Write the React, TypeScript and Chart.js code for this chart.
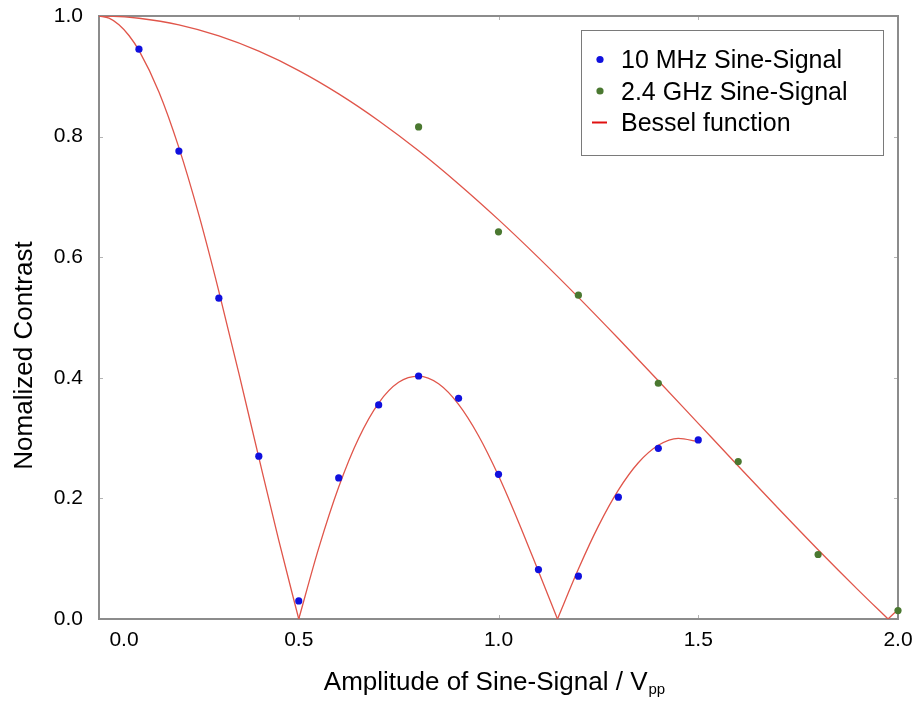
import React, { useEffect, useRef } from "react";
import { Chart, registerables } from "chart.js";

Chart.register(...registerables);

// Bessel fit (|J0|) for the 10 MHz series, one array pair per lobe
const fitMhzLobe1X = [0, 0.025, 0.05, 0.075, 0.1, 0.15, 0.2, 0.25, 0.3, 0.35, 0.4, 0.45, 0.5];
const fitMhzLobe1Y = [1.0, 0.9964, 0.9856, 0.9677, 0.943, 0.8741, 0.7817, 0.6701, 0.5434, 0.4076, 0.2679, 0.1303, 0.0];
const fitMhzLobe2X = [0.5, 0.55, 0.6, 0.65, 0.7, 0.75, 0.8, 0.85, 0.9, 0.95, 1.0, 1.05, 1.1, 1.1476];
const fitMhzLobe2Y = [0.0, 0.1176, 0.219, 0.2999, 0.3582, 0.3925, 0.4027, 0.39, 0.3559, 0.3039, 0.2375, 0.161, 0.079, 0.0];
const fitMhzLobe3X = [1.1476, 1.2, 1.25, 1.3, 1.35, 1.4, 1.45, 1.5];
const fitMhzLobe3Y = [0.0, 0.0829, 0.154, 0.2137, 0.2591, 0.2881, 0.2997, 0.2941];

// Bessel fit for the 2.4 GHz series
const fitGhzX = [0, 0.05, 0.1, 0.2, 0.3, 0.4, 0.5, 0.6, 0.7, 0.8, 0.9, 1.0, 1.1, 1.2, 1.3, 1.4, 1.5, 1.6, 1.7, 1.8, 1.9, 1.975];
const fitGhzY = [1.0, 0.9991, 0.9963, 0.9852, 0.9669, 0.9416, 0.9095, 0.8709, 0.8264, 0.7765, 0.7215, 0.6623, 0.5993, 0.5334, 0.4651, 0.3952, 0.3245, 0.2538, 0.1837, 0.1149, 0.0483, 0.0];
const fitGhzTailX = [1.975, 2.0];
const fitGhzTailY = [0.0, 0.0155];

// measured points
const mhzX = [0.1, 0.2, 0.3, 0.4, 0.5, 0.6, 0.7, 0.8, 0.9, 1.0, 1.1, 1.2, 1.3, 1.4, 1.5];
const mhzY = [0.945, 0.776, 0.532, 0.27, 0.03, 0.234, 0.355, 0.403, 0.366, 0.24, 0.082, 0.071, 0.202, 0.283, 0.297];
const ghzX = [0.8, 1.0, 1.2, 1.4, 1.6, 1.8, 2.0];
const ghzY = [0.816, 0.642, 0.537, 0.391, 0.261, 0.107, 0.014];

const xTicks = [0, 0.5, 1.0, 1.5, 2.0];
const yTicks = [0, 0.2, 0.4, 0.6, 0.8, 1.0];
const legendLabels = ["10 MHz Sine-Signal", "2.4 GHz Sine-Signal", "Bessel function"];
const xTitle = "Amplitude of Sine-Signal / V";
const xTitleSub = "pp";
const yTitle = "Nomalized Contrast";

const FONT = '"Liberation Sans", Arial, Helvetica, sans-serif';
const BLUE = "#1010de";
const GREEN = "#4a7830";
const RED = "#e0554a";

const zip = (xs: number[], ys: number[]) => xs.map((x, i) => ({ x, y: ys[i] }));

const curve = (label: string, xs: number[], ys: number[]) => ({
  label,
  data: zip(xs, ys),
  borderColor: RED,
  borderWidth: 1.3,
  pointRadius: 0,
  showLine: true,
  cubicInterpolationMode: "monotone",
  order: 1,
});

const decor = {
  id: "decor",
  beforeDatasetsDraw(chart: any) {
    const { ctx, chartArea: a, scales } = chart;
    const x = scales.x;
    const y = scales.y;
    ctx.save();
    ctx.strokeStyle = "#b4b4b4";
    ctx.lineWidth = 1;
    ctx.beginPath();
    xTicks.forEach((v) => {
      const px = Math.round(x.getPixelForValue(v)) + 0.5;
      ctx.moveTo(px, a.bottom);
      ctx.lineTo(px, a.bottom - 4);
      ctx.moveTo(px, a.top);
      ctx.lineTo(px, a.top + 4);
    });
    yTicks.forEach((v) => {
      const py = Math.round(y.getPixelForValue(v)) + 0.5;
      ctx.moveTo(a.left, py);
      ctx.lineTo(a.left + 4, py);
      ctx.moveTo(a.right, py);
      ctx.lineTo(a.right - 4, py);
    });
    ctx.stroke();
    ctx.strokeStyle = "#8c8c8c";
    ctx.lineWidth = 2;
    ctx.strokeRect(a.left, a.top, a.right - a.left, a.bottom - a.top);
    ctx.restore();
  },
  afterDraw(chart: any) {
    const { ctx, chartArea: a, scales } = chart;
    const x = scales.x;
    ctx.save();
    // x tick labels
    ctx.fillStyle = "#000";
    ctx.font = `21px ${FONT}`;
    ctx.textAlign = "center";
    ctx.textBaseline = "middle";
    xTicks.forEach((v, i) => {
      let px = x.getPixelForValue(v);
      if (i === 0) px += 25;
      ctx.fillText(v.toFixed(1), px, a.bottom + 21);
    });
    // x title with subscript
    ctx.textAlign = "left";
    ctx.textBaseline = "alphabetic";
    ctx.font = `26px ${FONT}`;
    const w1 = ctx.measureText(xTitle).width;
    ctx.font = `15px ${FONT}`;
    const w2 = ctx.measureText(xTitleSub).width;
    const cx = (a.left + a.right) / 2 - 4;
    const sx = cx - (w1 + w2 + 1) / 2;
    ctx.font = `26px ${FONT}`;
    ctx.fillText(xTitle, sx, a.bottom + 71);
    ctx.font = `15px ${FONT}`;
    ctx.fillText(xTitleSub, sx + w1 + 1, a.bottom + 75);
    // y title
    ctx.save();
    ctx.translate(a.left - 67, (a.top + a.bottom) / 2 + 38);
    ctx.rotate(-Math.PI / 2);
    ctx.font = `26px ${FONT}`;
    ctx.textAlign = "center";
    ctx.fillText(yTitle, 0, 0);
    ctx.restore();
    // legend
    const bx = a.right - 317;
    const by = a.top + 14;
    const bw = 302;
    const bh = 125;
    ctx.fillStyle = "#fff";
    ctx.fillRect(bx, by, bw, bh);
    ctx.strokeStyle = "#7a7a7a";
    ctx.lineWidth = 1;
    ctx.strokeRect(bx + 0.5, by + 0.5, bw, bh);
    const baselines = [by + 38, by + 69.5, by + 101];
    const marks = [BLUE, GREEN];
    ctx.font = `25px ${FONT}`;
    ctx.textAlign = "left";
    ctx.textBaseline = "alphabetic";
    legendLabels.forEach((lab, i) => {
      const cy = baselines[i] - 8.5;
      if (i < 2) {
        ctx.fillStyle = marks[i];
        ctx.beginPath();
        ctx.arc(bx + 19, cy, 3.6, 0, Math.PI * 2);
        ctx.fill();
      } else {
        ctx.strokeStyle = "#e01010";
        ctx.lineWidth = 2;
        ctx.beginPath();
        ctx.moveTo(bx + 11, cy);
        ctx.lineTo(bx + 26, cy);
        ctx.stroke();
      }
      ctx.fillStyle = "#000";
      ctx.fillText(lab, bx + 40, baselines[i]);
    });
    ctx.restore();
  },
};

export default function App() {
  const ref = useRef<HTMLCanvasElement | null>(null);
  useEffect(() => {
    if (!ref.current) return;
    Chart.defaults.font.family = FONT;
    const chart = new Chart(ref.current, {
      type: "scatter",
      data: {
        datasets: [
          {
            label: legendLabels[0],
            data: zip(mhzX, mhzY),
            backgroundColor: BLUE,
            borderColor: BLUE,
            pointRadius: 3.6,
            pointBorderWidth: 0,
            showLine: false,
            clip: false,
            order: 0,
          } as any,
          {
            label: legendLabels[1],
            data: zip(ghzX, ghzY),
            backgroundColor: GREEN,
            borderColor: GREEN,
            pointRadius: 3.6,
            pointBorderWidth: 0,
            showLine: false,
            clip: false,
            order: 0,
          },
          curve(legendLabels[2], fitMhzLobe1X, fitMhzLobe1Y),
          curve(legendLabels[2], fitMhzLobe2X, fitMhzLobe2Y),
          curve(legendLabels[2], fitMhzLobe3X, fitMhzLobe3Y),
          curve(legendLabels[2], fitGhzX, fitGhzY),
          curve(legendLabels[2], fitGhzTailX, fitGhzTailY),
        ],
      },
      options: {
        responsive: false,
        animation: false,
        events: [],
        layout: { padding: { top: 16, right: 17, left: 0, bottom: 0 } },
        plugins: { legend: { display: false }, tooltip: { enabled: false }, title: { display: false } },
        scales: {
          x: {
            type: "linear",
            min: 0,
            max: 2.0,
            grid: { display: false, drawTicks: false },
            border: { display: false },
            ticks: { display: false },
            afterFit: (s: any) => {
              s.height = 85;
              s.paddingLeft = 0;
              s.paddingRight = 0;
            },
          },
          y: {
            type: "linear",
            min: 0,
            max: 1.0,
            grid: { display: false, drawTicks: false },
            border: { display: false },
            ticks: {
              stepSize: 0.2,
              padding: 16,
              color: "#000",
              font: { size: 21, family: FONT },
              callback: (v: any) => Number(v).toFixed(1),
            },
            afterFit: (s: any) => {
              s.width = 99;
              s.paddingTop = 0;
              s.paddingBottom = 0;
            },
          },
        },
      } as any,
      plugins: [decor],
    });
    return () => chart.destroy();
  }, []);
  return (
    <div style={{ position: "fixed", left: 0, top: 0, width: 915, height: 704, background: "#fff" }}>
      <canvas ref={ref} width={915} height={704} style={{ display: "block" }} />
    </div>
  );
}
